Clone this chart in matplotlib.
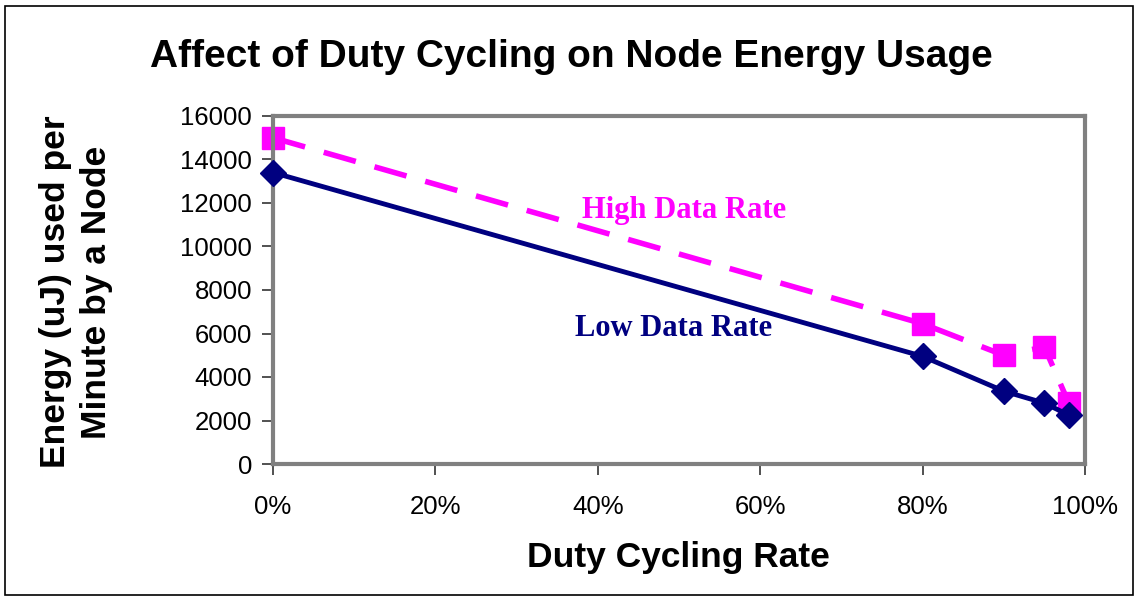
import matplotlib
matplotlib.use("Agg")
import matplotlib.pyplot as plt
from matplotlib.ticker import FuncFormatter
from matplotlib.patches import Rectangle

# data
duty = [0.0, 0.80, 0.90, 0.95, 0.98]
low_rate = [13400, 4950, 3350, 2800, 2250]
high_rate = [15000, 6450, 5000, 5380, 2800]
yticks = [0, 2000, 4000, 6000, 8000, 10000, 12000, 14000, 16000]
xticks = [0.0, 0.2, 0.4, 0.6, 0.8, 1.0]

plt.rcParams['font.family'] = ['Liberation Sans', 'DejaVu Sans']

fig = plt.figure(figsize=(11.38, 5.96), dpi=100)
fig.patch.set_facecolor('white')
fig.patches.append(Rectangle((5/1138, 0.002), 1128/1138, 589/596, transform=fig.transFigure,
                             fill=False, edgecolor='black', linewidth=1.2))

ax = fig.add_axes([273/1138, 132/596, 812/1138, 348/596])
ax.plot(duty, high_rate, color='#FF00FF', linewidth=4, dashes=(6, 3.5),
        marker='s', markersize=16, markeredgecolor='#FF00FF', zorder=2, clip_on=False)
ax.plot(duty, low_rate, color='#000080', linewidth=3.5,
        marker='D', markersize=13, markeredgecolor='#000080', zorder=3, clip_on=False)

ax.set_xlim(0, 1.0)
ax.set_ylim(0, 16000)
ax.set_xticks(xticks)
ax.set_yticks(yticks)
ax.xaxis.set_major_formatter(FuncFormatter(lambda v, p: f"{v*100:.0f}%"))
ax.tick_params(axis='both', labelsize=18.5, direction='out', length=8, width=1.2,
               color='#333333', labelcolor='black')
ax.tick_params(axis='x', pad=14)
ax.tick_params(axis='y', pad=7)
for s in ax.spines.values():
    s.set_color('#808080')
    s.set_linewidth(3)

ax.text(0.38, 11650, "High Data Rate", color='#FF00FF', fontsize=22,
        family=['Liberation Serif'], fontweight='bold', ha='left', va='center')
ax.text(0.372, 6250, "Low Data Rate", color='#000080', fontsize=22,
        family=['Liberation Serif'], fontweight='bold', ha='left', va='center')

fig.text(571/1138, 1 - 57/596, "Affect of Duty Cycling on Node Energy Usage",
         fontsize=28, fontweight='bold', ha='center', va='center')
fig.text(678/1138, 1 - 558/596, "Duty Cycling Rate",
         fontsize=25.5, fontweight='bold', ha='center', va='center')
fig.text(76/1138, 1 - 292/596, "Energy (uJ) used per\nMinute by a Node",
         fontsize=25.5, fontweight='bold', ha='center', va='center',
         rotation=90, linespacing=1.3)

fig.savefig("out.png", dpi=100)
